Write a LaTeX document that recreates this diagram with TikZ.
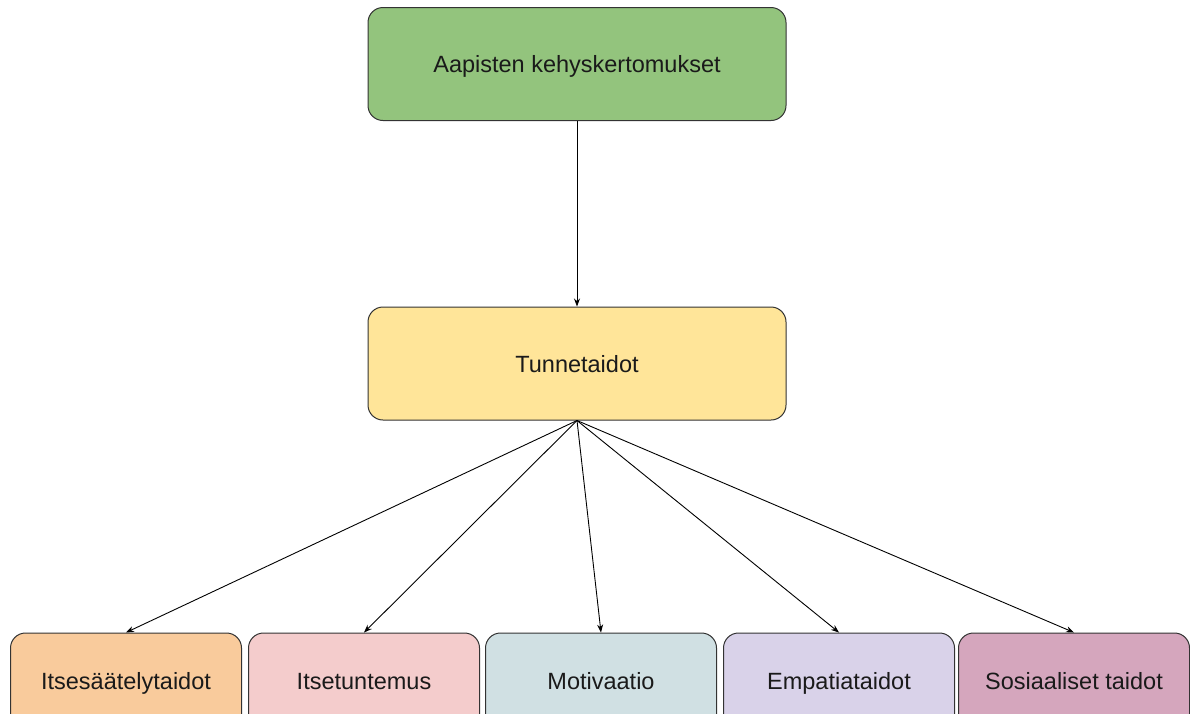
\documentclass[tikz,border=0pt]{standalone}
\usepackage{fontspec}
\setmainfont{Liberation Sans}
\usetikzlibrary{arrows.meta}
\definecolor{cgreen}{HTML}{93C47D}
\definecolor{cyellow}{HTML}{FFE599}
\definecolor{corange}{HTML}{F9CB9C}
\definecolor{cpink}{HTML}{F4CCCC}
\definecolor{cblue}{HTML}{D0E0E3}
\definecolor{cpurple}{HTML}{D9D2E9}
\definecolor{cmagenta}{HTML}{D5A6BD}
\definecolor{cborder}{HTML}{333333}
\definecolor{ctext}{HTML}{1A1A1A}
\begin{document}
\begin{tikzpicture}[x=1pt,y=-1pt,
  box/.style={draw=cborder, line width=1pt, rounded corners=15pt, inner sep=0pt,
    text=ctext, font=\fontsize{23.5}{27}\selectfont, text height=17pt, text depth=0pt},
  bigbox/.style={box, minimum width=418pt, minimum height=113pt},
  smallbox/.style={box, minimum width=231pt, minimum height=96pt},
  conn/.style={draw=black, line width=0.9pt, -{Stealth[length=8pt,width=6pt]}}
]
\clip (0,0) rectangle (1190,713);
\fill[white] (0,0) rectangle (1190,713);
\node[bigbox, fill=cgreen] (top) at (577,64) {Aapisten kehyskertomukset};
\node[bigbox, fill=cyellow] (mid) at (577,363.5) {Tunnetaidot};
\node[smallbox, fill=corange] (b1) at (126,681) {Itsesäätelytaidot};
\node[smallbox, fill=cpink] (b2) at (364,681) {Itsetuntemus};
\node[smallbox, fill=cblue] (b3) at (601,681) {Motivaatio};
\node[smallbox, fill=cpurple] (b4) at (839,681) {Empatiataidot};
\node[smallbox, fill=cmagenta] (b5) at (1074,681) {Sosiaaliset taidot};
\draw[conn] (top.south) -- (mid.north);
\foreach \b in {b1,b2,b3,b4,b5} \draw[conn] (mid.south) -- (\b.north);
\end{tikzpicture}
\end{document}
